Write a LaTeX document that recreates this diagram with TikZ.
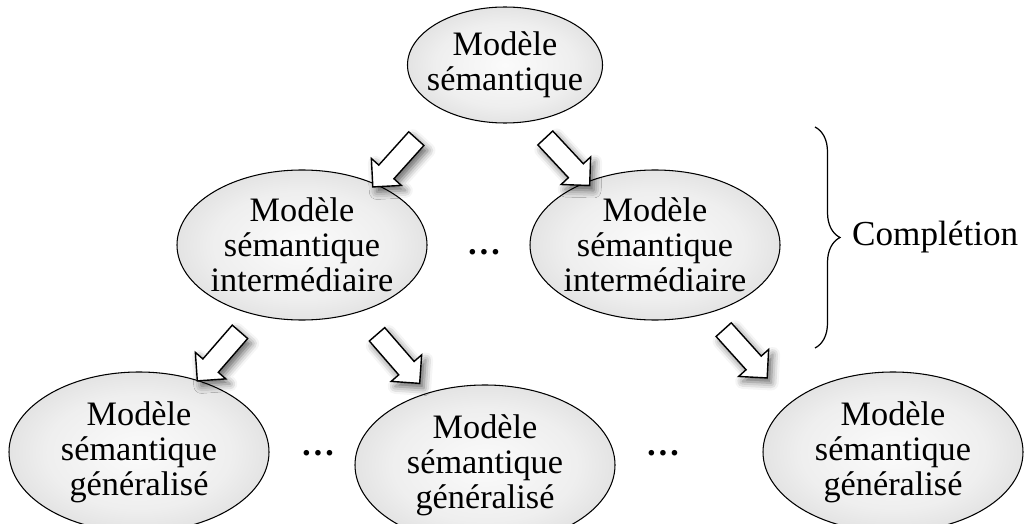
\documentclass[tikz,border=0pt]{standalone}
\usepackage{fontspec}
\setmainfont{Liberation Serif}
\usetikzlibrary{shapes.geometric, shapes.arrows, shadows.blur, decorations.pathreplacing, calc, positioning}

\pgfdeclareradialshading{modelshade}{\pgfpoint{0bp}{0bp}}{color(0bp)=(gray!3); color(18bp)=(gray!13); color(50bp)=(gray!52)}

\begin{document}
\begin{tikzpicture}[
    model/.style={draw, ellipse, shade, shading=modelshade, align=center, inner sep=0pt,
                  line width=0.6pt, font=\fontsize{19.5}{19.8}\selectfont},
    topmodel/.style={model, inner xsep=-0.19cm, minimum width=3.9cm, minimum height=2.32cm},
    midmodel/.style={model, inner xsep=-0.06cm, minimum width=5.0cm, minimum height=3.0cm},
    genmodel/.style={model, minimum width=5.2cm, minimum height=3.2cm},
    flowarrow/.style={draw, fill=white, single arrow, single arrow head extend=0.2cm,
                      inner xsep=0pt, inner ysep=0.19cm, minimum height=1.3cm, line width=0.8pt,
                      blur shadow={shadow xshift=0.8mm, shadow yshift=-1mm, shadow blur radius=1.5mm, shadow opacity=60}},
    dots/.style={font=\fontsize{19.5}{19.8}\selectfont\bfseries},
    label/.style={font=\fontsize{20}{19.8}\selectfont},
    bracearc/.style={decorate, decoration={brace, amplitude=0.5cm}, line width=0.7pt}
]
\useasboundingbox (0,0) rectangle (20.58,-10.48);

% ====================== SEMANTIC MODEL ======================
\node[topmodel] (sem) at (10.1,-1.3) {Modèle\\sémantique};

% ====================== INTERMEDIATE MODELS ======================
\node[midmodel] (intA) at (6.04,-4.9) {Modèle\\sémantique\\intermédiaire};
\node[midmodel] (intB) at (13.1,-4.9) {Modèle\\sémantique\\intermédiaire};
\node[dots] (dotsInt) at (9.68,-5.05) {…};

% ====================== GENERALISED MODELS ======================
\node[genmodel] (genA) at (2.78,-9.04)  {Modèle\\sémantique\\généralisé};
\node[genmodel] (genB) at (9.7,-9.3)    {Modèle\\sémantique\\généralisé};
\node[genmodel] (genC) at (17.86,-9.04) {Modèle\\sémantique\\généralisé};
\node[dots] (dotsGenA) at (6.36,-9.07)  {…};
\node[dots] (dotsGenB) at (13.26,-9.07) {…};

% ====================== ARROWS ======================
\node[flowarrow, rotate=-132] (aSemA) at ($(sem)!0.5!(intA)+(-0.11,-0.08)$) {};
\node[flowarrow, rotate=-47]  (aSemB) at ($(sem)!0.5!(intB)+(-0.32,-0.06)$) {};
\node[flowarrow, rotate=-131] (aIntA) at ($(intA)!0.5!(genA)+(0.03,-0.08)$) {};
\node[flowarrow, rotate=-49]  (aIntB) at ($(intA)!0.5!(genB)+(0.03,0)$) {};
\node[flowarrow, rotate=-48]  (aIntC) at ($(intB)!0.5!(genC)+(-0.64,-0.03)$) {};

% ====================== COMPLETION BRACE ======================
\coordinate (braceTop) at (16.3,-2.54);
\coordinate (braceBot) at (16.3,-6.96);
\draw[bracearc] (braceTop) -- (braceBot);
\node[label, anchor=west] (completion) at ($(braceTop)!0.5!(braceBot)+(0.62,0)$) {Complétion};

\end{tikzpicture}
\end{document}
